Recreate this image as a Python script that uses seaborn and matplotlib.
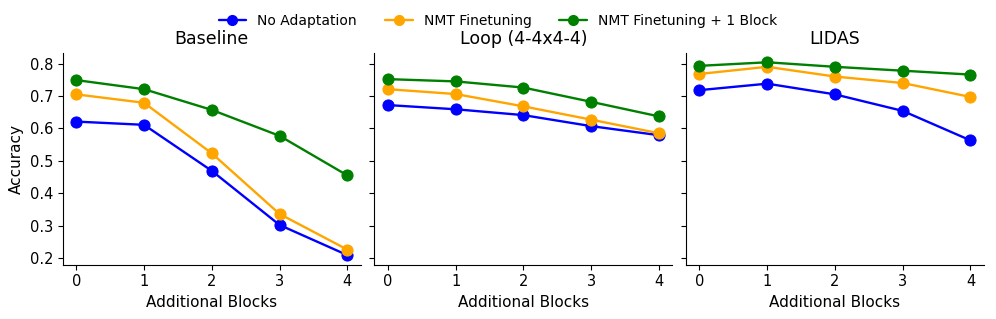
import pandas as pd
import seaborn as sns
import matplotlib.pyplot as plt

# Data
blocks = [0, 1, 2, 3, 4]
methods = ['No Adaptation', 'NMT Finetuning', 'NMT Finetuning + 1 Block']
panels = ['Baseline', 'Loop (4-4x4-4)', 'LIDAS']

baseline_none = [0.621, 0.611, 0.469, 0.302, 0.209]
baseline_nmt = [0.705, 0.679, 0.523, 0.336, 0.226]
baseline_nmt_block = [0.749, 0.721, 0.657, 0.577, 0.455]

loop_none = [0.672, 0.659, 0.641, 0.607, 0.579]
loop_nmt = [0.721, 0.706, 0.668, 0.627, 0.585]
loop_nmt_block = [0.752, 0.745, 0.726, 0.682, 0.637]

lidas_none = [0.718, 0.738, 0.705, 0.654, 0.563]
lidas_nmt = [0.768, 0.790, 0.760, 0.740, 0.697]
lidas_nmt_block = [0.793, 0.804, 0.790, 0.778, 0.766]

series = {
    'Baseline': [baseline_none, baseline_nmt, baseline_nmt_block],
    'Loop (4-4x4-4)': [loop_none, loop_nmt, loop_nmt_block],
    'LIDAS': [lidas_none, lidas_nmt, lidas_nmt_block],
}

rows = []
for panel in panels:
    for method, vals in zip(methods, series[panel]):
        for b, v in zip(blocks, vals):
            rows.append({'Panel': panel, 'Method': method,
                         'Additional Blocks': b, 'Accuracy': v})
dtf = pd.DataFrame(rows)

palette = {'No Adaptation': 'blue', 'NMT Finetuning': 'orange',
           'NMT Finetuning + 1 Block': 'green'}

sns.set_style('ticks', {'text.color': 'black', 'axes.labelcolor': 'black',
                        'xtick.color': 'black', 'ytick.color': 'black',
                        'axes.edgecolor': 'black'})
plt.rcParams['font.family'] = ['DejaVu Sans']

fig, axes = plt.subplots(1, 3, sharey=True, figsize=(9.96, 3.19), dpi=100)
for ax, panel in zip(axes, panels):
    sns.lineplot(data=dtf[dtf['Panel'] == panel], x='Additional Blocks',
                 y='Accuracy', hue='Method', palette=palette, marker='o',
                 markersize=8, markeredgecolor=None, linewidth=1.7,
                 ax=ax, legend=False)
    ax.set_title(panel, fontsize=12.5)
    ax.set_xticks(blocks)
    ax.tick_params(labelsize=10.5)
    ax.set_xlabel('Additional Blocks', fontsize=11)
axes[0].set_ylabel('Accuracy', fontsize=11)
axes[1].set_ylabel(None)
axes[2].set_ylabel(None)
axes[0].set_yticks([0.2, 0.3, 0.4, 0.5, 0.6, 0.7, 0.8])
sns.despine(fig)

handles = [plt.Line2D([], [], color=palette[m], marker='o', markersize=7,
                      linewidth=1.7) for m in methods]
fig.legend(handles, methods, loc='upper center', ncol=3, frameon=False,
           bbox_to_anchor=(0.5, 0.995), fontsize=10)

fig.subplots_adjust(left=0.063, right=0.988, bottom=0.17, top=0.835,
                    wspace=0.045)
fig.savefig('out.png', dpi=100)
